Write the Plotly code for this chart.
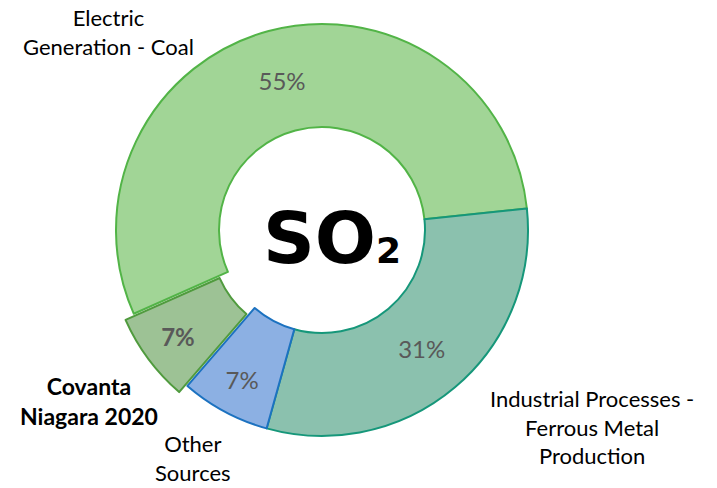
import plotly.graph_objects as go

categories = ["Electric Generation - Coal", "Industrial Processes - Ferrous Metal Production",
              "Other Sources", "Covanta Niagara 2020"]
values = [55, 31, 7, 7]
fill_colors = ["#a1d596", "#8bc1ae", "#8cb0e3", "#9dc295"]
line_colors = ["#52b447", "#16977a", "#1c72c0", "#509b3e"]
pulls = [0, 0, 0, 0.05]
templates = ["%{percent:.0%}", "%{percent:.0%}", "%{percent:.0%}", "<b>%{percent:.0%}</b>"]

W, H = 717, 488
cx, cy, r = 322, 230, 206
half = r * (1 + max(pulls))

fig = go.Figure(go.Pie(
    labels=categories, values=values, sort=False, direction="clockwise",
    rotation=-114, hole=0.5, pull=pulls,
    marker=dict(colors=fill_colors, line=dict(color=line_colors, width=2)),
    texttemplate=templates, textposition="inside", insidetextorientation="horizontal",
    textfont=dict(family="Lato, Open Sans, sans-serif", size=24, color="#595959"),
    domain=dict(x=[(cx - half) / W, (cx + half) / W],
                y=[(H - cy - half) / H, (H - cy + half) / H]),
    showlegend=False, hoverinfo="label+percent",
))

lab_font = dict(family="Lato, Open Sans, sans-serif", size=22, color="#000000")
annots = [
    ("Electric<br>Generation - Coal", 108, 32, 22),
    ("Industrial Processes -<br>Ferrous Metal<br>Production", 592, 427, 22),
    ("Other<br>Sources", 193, 458, 22),
    ("<b>Covanta<br>Niagara 2020</b>", 89, 401, 23),
]
for txt, x, y, s in annots:
    fig.add_annotation(text=txt, x=x / W, y=1 - y / H, xref="paper", yref="paper",
                       showarrow=False, font=dict(lab_font, size=s), align="center",
                       xanchor="center", yanchor="middle")

fig.add_annotation(
    text='SO<span style="font-size:36px">2</span>',
    x=332 / W, y=1 - 238 / H, xref="paper", yref="paper",
    showarrow=False, xanchor="center", yanchor="middle",
    font=dict(family="DejaVu Sans, sans-serif", size=72, color="#000000", weight="bold"))

fig.update_layout(width=W, height=H, margin=dict(l=0, r=0, t=0, b=0),
                  paper_bgcolor="white", plot_bgcolor="white")
fig.write_html("out.html", config={"displayModeBar": False},
               post_script="document.body.style.margin='0';")
